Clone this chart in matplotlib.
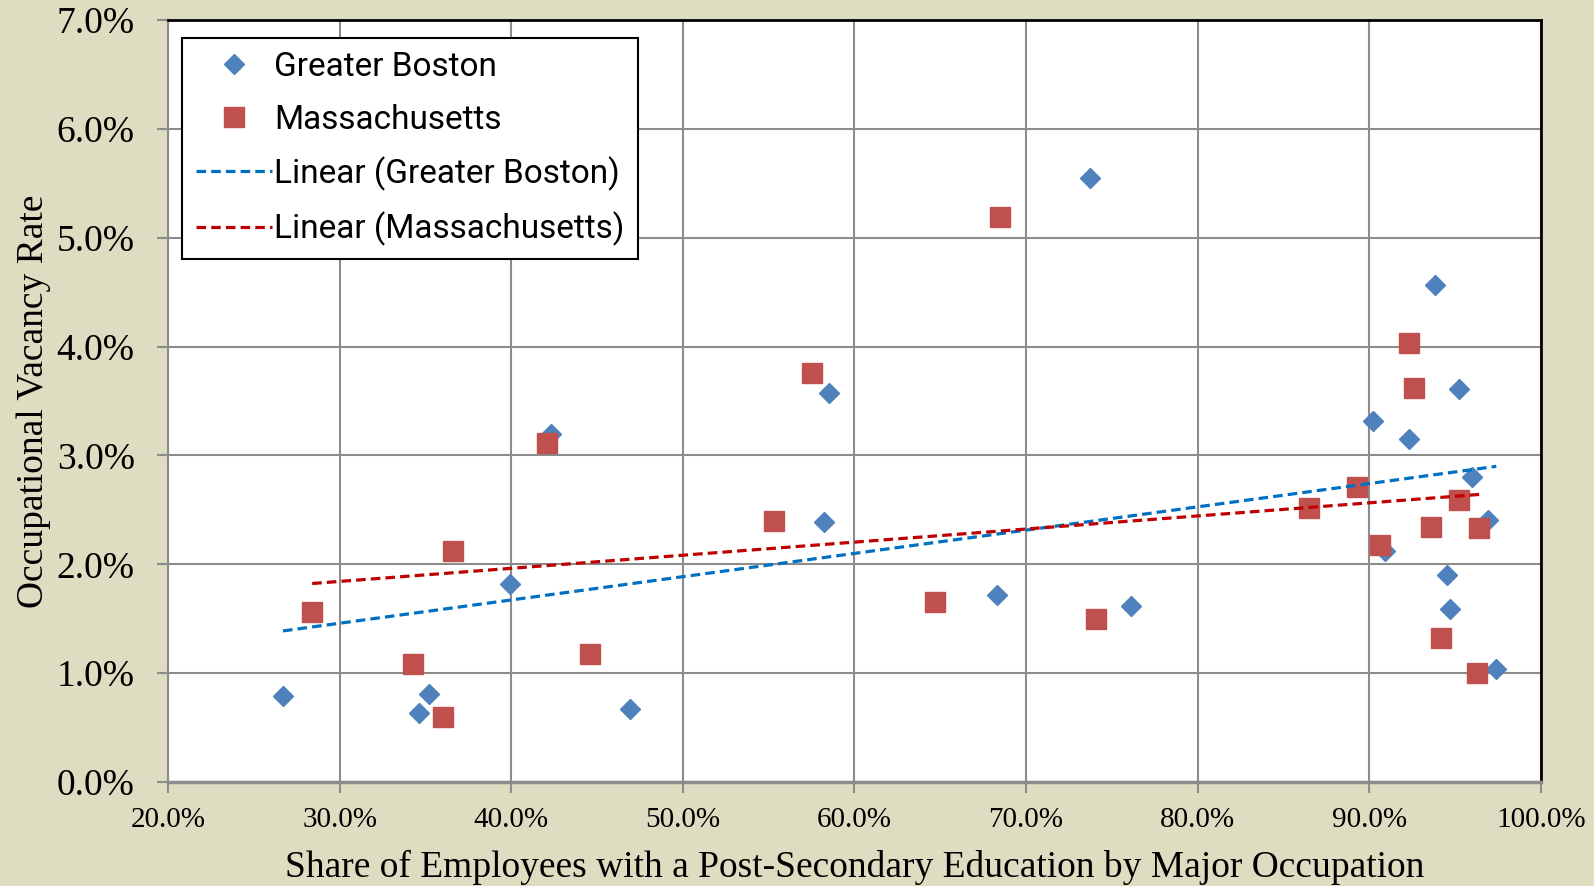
import numpy as np
import matplotlib
matplotlib.use("Agg")
import matplotlib.pyplot as plt

# ---- data (x = share with post-secondary education, y = vacancy rate), in percent
boston_x = [26.7, 34.6, 35.2, 39.9, 42.3, 46.9, 58.2, 58.5, 68.3, 73.7, 76.1,
            90.2, 90.9, 92.3, 93.8, 95.2, 96.0, 96.9, 94.5, 94.7, 97.4]
boston_y = [0.79, 0.63, 0.81, 1.82, 3.20, 0.67, 2.39, 3.57, 1.72, 5.55, 1.62,
            3.32, 2.12, 3.15, 4.57, 3.61, 2.80, 2.41, 1.90, 1.59, 1.04]
mass_x = [28.4, 34.3, 36.0, 36.6, 42.1, 44.6, 55.3, 57.5, 64.7, 68.5, 74.1,
          86.5, 89.3, 90.6, 92.3, 92.6, 93.6, 94.2, 95.2, 96.4, 96.3]
mass_y = [1.56, 1.08, 0.60, 2.12, 3.11, 1.18, 2.40, 3.76, 1.65, 5.19, 1.50,
          2.52, 2.71, 2.18, 4.03, 3.62, 2.34, 1.32, 2.59, 2.33, 1.00]

x_ticks = [20, 30, 40, 50, 60, 70, 80, 90, 100]
y_ticks = [0, 1, 2, 3, 4, 5, 6, 7]
x_tick_labels = ["20.0%", "30.0%", "40.0%", "50.0%", "60.0%", "70.0%", "80.0%", "90.0%", "100.0%"]
y_tick_labels = ["0.0%", "1.0%", "2.0%", "3.0%", "4.0%", "5.0%", "6.0%", "7.0%"]

series_labels = ["Greater Boston", "Massachusetts",
                 "Linear (Greater Boston)", "Linear (Massachusetts)"]
x_title = "Share of Employees with a Post-Secondary Education by Major Occupation"
y_title = "Occupational Vacancy Rate"

BG = "#DEDDC1"
GRID = "#8C8C8C"
serif = ["Liberation Serif", "DejaVu Serif"]
sans = ["Roboto", "DejaVu Sans"]

fig = plt.figure(figsize=(15.94, 8.86), dpi=100, facecolor=BG)
ax = fig.add_axes([0.1054, 0.1174, 0.9667 - 0.1054, 0.9774 - 0.1174])
ax.set_facecolor("white")

ax.set_xlim(20, 100)
ax.set_ylim(0, 7)
ax.set_xticks(x_ticks)
ax.set_yticks(y_ticks)
ax.set_xticklabels(x_tick_labels, fontsize=21, family=serif)
ax.set_yticklabels(y_tick_labels, fontsize=27, family=serif)
ax.grid(True, color=GRID, linewidth=1.5, zorder=0)
ax.set_axisbelow(True)
ax.tick_params(axis="both", direction="out", length=8, width=1.5, color=GRID)
ax.tick_params(axis="x", pad=10)
ax.tick_params(axis="y", pad=16)

for side in ["top", "right"]:
    ax.spines[side].set_color("black")
    ax.spines[side].set_linewidth(2)
ax.spines["left"].set_color(GRID)
ax.spines["left"].set_linewidth(1.5)
ax.spines["bottom"].set_color(GRID)
ax.spines["bottom"].set_linewidth(2.5)

# scatter points
h1, = ax.plot(boston_x, boston_y, linestyle="none", marker="D", markersize=10,
              color="#4F81BD", markeredgecolor="#4F81BD", zorder=3)
h2, = ax.plot(mass_x, mass_y, linestyle="none", marker="s", markersize=14,
              color="#C0504D", markeredgecolor="#C0504D", zorder=3)

# linear trend lines (least squares fit over each series)
def trend(xs, ys):
    xs = np.asarray(xs); ys = np.asarray(ys)
    m, b = np.polyfit(xs, ys, 1)
    xx = np.array([xs.min(), xs.max()])
    return xx, m * xx + b

bx, by = trend(boston_x, boston_y)
mx, my = trend(mass_x, mass_y)
h3, = ax.plot(bx, by, color="#0070C0", linewidth=2.3, dashes=(3, 1.6), zorder=4)
h4, = ax.plot(mx, my, color="#C00000", linewidth=2.3, dashes=(3, 1.6), zorder=4)

leg = ax.legend([h1, h2, h3, h4], series_labels,
                loc="upper left", bbox_to_anchor=(0.0105, 0.977),
                prop={"family": sans, "size": 24},
                frameon=True, fancybox=False, edgecolor="black",
                framealpha=1, borderpad=0.4, labelspacing=0.62,
                handlelength=2.3, handletextpad=0.05, borderaxespad=0)
leg.get_frame().set_linewidth(1.5)

ax.set_xlabel(x_title, fontsize=27, family=serif, labelpad=12)
ax.set_ylabel(y_title, fontsize=27, family=serif, labelpad=4)

fig.savefig("out.png", dpi=100, facecolor=BG)
